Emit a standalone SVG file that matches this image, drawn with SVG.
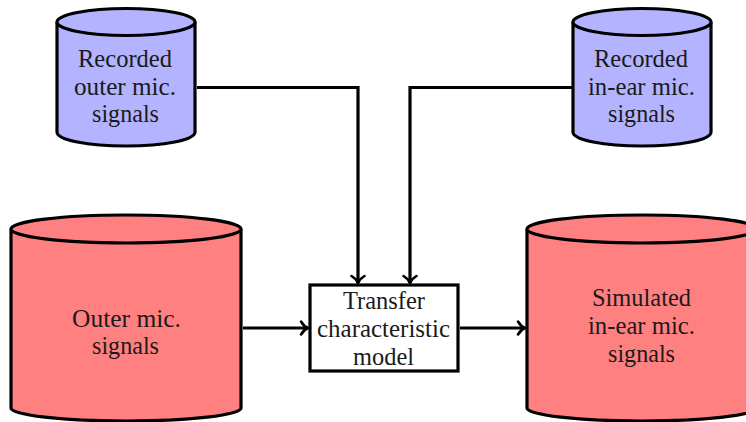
<svg xmlns="http://www.w3.org/2000/svg" width="746" height="422" viewBox="0 0 746 422">
<defs>
<marker id="arrow" markerUnits="userSpaceOnUse" markerWidth="16" markerHeight="18" refX="12" refY="9" orient="auto">
<path d="M5 2.500Q8 7.500 12 9Q8 10.500 5 15.500" fill="none" stroke="#000" stroke-width="2.600" stroke-linecap="round"/>
</marker>
</defs>
<style>
.s{stroke:#000;stroke-width:3.200;stroke-linejoin:round}
.blue{fill:#b3b3ff}
.red{fill:#ff8080}
.c{fill:none;stroke:#000;stroke-width:3.200}
text{font-family:"Liberation Serif","Times New Roman",serif;font-size:24.500px;fill:#1a1a1a;text-anchor:middle}
</style>
<rect width="746" height="422" fill="#fff"/>
<g id="recorded-outer">
<path class="s blue" d="M57 22V132C57 140 88 146 126 146S195 140 195 132V22"/>
<ellipse class="s blue" cx="126" cy="22" rx="69" ry="13.500"/>
<text x="125" y="67" textLength="94" lengthAdjust="spacingAndGlyphs">Recorded</text>
<text x="125" y="95" textLength="102" lengthAdjust="spacingAndGlyphs">outer mic.</text>
<text x="125.500" y="122" textLength="67" lengthAdjust="spacingAndGlyphs">signals</text>
</g>
<g id="recorded-inear">
<path class="s blue" d="M573 22V132C573 140 604 146 642 146S711 140 711 132V22"/>
<ellipse class="s blue" cx="642" cy="22" rx="69" ry="13.500"/>
<text x="641" y="67" textLength="94" lengthAdjust="spacingAndGlyphs">Recorded</text>
<text x="641.500" y="95" textLength="107" lengthAdjust="spacingAndGlyphs">in-ear mic.</text>
<text x="641.500" y="122" textLength="67" lengthAdjust="spacingAndGlyphs">signals</text>
</g>
<g id="outer-signals">
<path class="s red" d="M11 229V408C11 415 63 421 126 421S241 415 241 408V229"/>
<ellipse class="s red" cx="126" cy="229" rx="115" ry="14"/>
<text x="126.500" y="327" textLength="109" lengthAdjust="spacingAndGlyphs">Outer mic.</text>
<text x="125.500" y="354" textLength="67" lengthAdjust="spacingAndGlyphs">signals</text>
</g>
<g id="simulated-signals">
<path class="s red" d="M527 229V408C527 415 579 421 642 421S757 415 757 408V229"/>
<ellipse class="s red" cx="642" cy="229" rx="115" ry="14"/>
<text x="641.500" y="306" textLength="99" lengthAdjust="spacingAndGlyphs">Simulated</text>
<text x="641.500" y="334" textLength="107" lengthAdjust="spacingAndGlyphs">in-ear mic.</text>
<text x="641.500" y="362" textLength="67" lengthAdjust="spacingAndGlyphs">signals</text>
</g>
<g id="model">
<rect x="310" y="285" width="148" height="86" fill="#fff" stroke="#000" stroke-width="3.200"/>
<text x="384" y="309" textLength="82" lengthAdjust="spacingAndGlyphs">Transfer</text>
<text x="383.500" y="337" textLength="133" lengthAdjust="spacingAndGlyphs">characteristic</text>
<text x="383.500" y="365" textLength="61" lengthAdjust="spacingAndGlyphs">model</text>
</g>
<g id="connectors">
<path class="c" marker-end="url(#arrow)" d="M197 87.500H358V283"/>
<path class="c" marker-end="url(#arrow)" d="M572 87.500H410V283"/>
<path class="c" marker-end="url(#arrow)" d="M243 328H308"/>
<path class="c" marker-end="url(#arrow)" d="M460 328H525"/>
</g>
</svg>
